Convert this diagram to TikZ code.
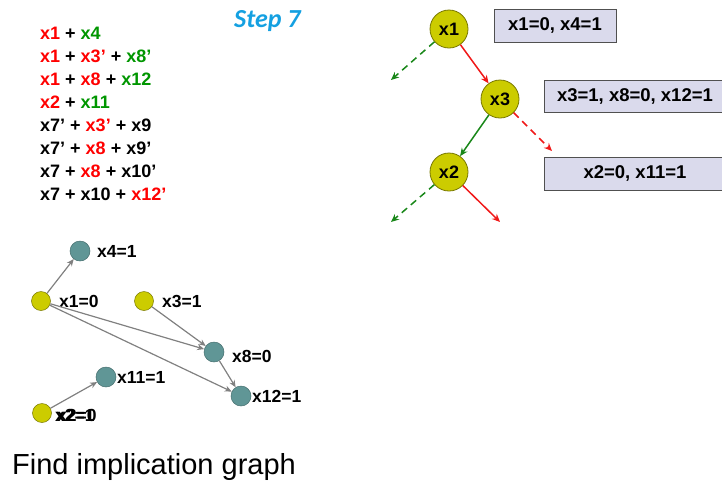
\documentclass[tikz,border=0pt]{standalone}
\usepackage{fontspec}
\setmainfont{Liberation Sans}
\newfontfamily\stepfont{Carlito}
\usetikzlibrary{arrows.meta}

\definecolor{litred}{RGB}{255,0,0}
\definecolor{litgreen}{RGB}{0,150,0}
\definecolor{steptitle}{RGB}{20,160,225}
\definecolor{decfill}{RGB}{204,204,0}
\definecolor{decdraw}{RGB}{120,120,0}
\definecolor{implfill}{RGB}{96,150,150}
\definecolor{impldraw}{RGB}{70,110,110}
\definecolor{trailfill}{RGB}{218,218,236}
\definecolor{traildraw}{RGB}{80,80,80}
\definecolor{edgegray}{RGB}{128,128,128}
\definecolor{branchred}{RGB}{240,25,25}
\definecolor{branchgreen}{RGB}{25,135,25}

\tikzset{
  clause/.style={anchor=base west, inner sep=0pt, font=\fontsize{18}{18}\selectfont\bfseries},
  decision/.style={circle, minimum size=38pt, inner sep=0pt, fill=decfill, draw=decdraw, line width=0.8pt,
                   font=\fontsize{18}{18}\selectfont\bfseries},
  trail/.style={rectangle, fill=trailfill, draw=traildraw, line width=0.8pt, inner sep=0pt,
                font=\fontsize{18.5}{18.5}\selectfont\bfseries},
  gdec/.style={circle, minimum size=19pt, inner sep=0pt, fill=decfill, draw=decdraw, line width=0.5pt},
  gimp/.style={circle, minimum size=20pt, inner sep=0pt, fill=implfill, draw=impldraw, line width=0.5pt},
  glabel/.style={anchor=west, inner sep=0pt, font=\fontsize{17.5}{17.5}\selectfont\bfseries},
  implarrow/.style={draw=edgegray, line width=1.2pt, -{Stealth[length=7pt,width=6pt]}},
  redsolid/.style={draw=branchred, line width=1.5pt, -{Stealth[length=8pt,width=7pt]}},
  greensolid/.style={draw=branchgreen, line width=1.5pt, -{Stealth[length=8pt,width=7pt]}},
  reddashed/.style={redsolid, dash pattern=on 7pt off 5pt},
  greendashed/.style={greensolid, dash pattern=on 7pt off 5pt},
}

\begin{document}
\begin{tikzpicture}[x=1pt, y=-1pt]
\useasboundingbox (0,0) rectangle (722,483);

% title
\node[anchor=base west, inner sep=0pt, text=steptitle, font=\fontsize{26}{26}\selectfont\stepfont\bfseries\itshape]
  (title) at (234,27) {Step 7};

% clause list
\node[clause] (c1) at (40,39)  {\textcolor{litred}{x1} + \textcolor{litgreen}{x4}};
\node[clause] (c2) at (40,62)  {\textcolor{litred}{x1} + \textcolor{litred}{x3’} + \textcolor{litgreen}{x8’}};
\node[clause] (c3) at (40,85)  {\textcolor{litred}{x1} + \textcolor{litred}{x8} + \textcolor{litgreen}{x12}};
\node[clause] (c4) at (40,108) {\textcolor{litred}{x2} + \textcolor{litgreen}{x11}};
\node[clause] (c5) at (40,131) {x7’ + \textcolor{litred}{x3’} + x9};
\node[clause] (c6) at (40,154) {x7’ + \textcolor{litred}{x8} + x9’};
\node[clause] (c7) at (40,177) {x7 + \textcolor{litred}{x8} + x10’};
\node[clause] (c8) at (40,200) {x7 + x10 + \textcolor{litred}{x12’}};

% decision tree
\node[decision] (d1) at (449,29)  {x1};
\node[decision] (d3) at (500,99)  {x3};
\node[decision] (d2) at (449,172) {x2};

\coordinate (d1l) at (391,80);
\coordinate (d3r) at (552,151);
\coordinate (d2l) at (391,222);
\coordinate (d2r) at (500,222);

\draw[greendashed] (d1) -- (d1l);
\draw[redsolid]    (d1) -- (d3);
\draw[greensolid]  (d3) -- (d2);
\draw[reddashed]   (d3) -- (d3r);
\draw[greendashed] (d2) -- (d2l);
\draw[redsolid]    (d2) -- (d2r);

% assignment trail
\node[trail, minimum width=122pt, minimum height=33pt] (t1) at (555,25.5) {x1=0, x4=1};
\node[trail, minimum width=182pt, minimum height=32pt] (t2) at (635,96)   {x3=1, x8=0, x12=1};
\node[trail, minimum width=182pt, minimum height=33pt] (t3) at (635,173.5){x2=0, x11=1};

% implication graph
\node[gimp] (g4)  at (80,251)  {};
\node[gdec] (g1)  at (41,301)  {};
\node[gdec] (g3)  at (144,301) {};
\node[gimp] (g8)  at (214,352) {};
\node[gimp] (g11) at (106,377) {};
\node[gimp] (g12) at (241,396) {};
\node[gdec] (g2)  at (42,413)  {};

\node[glabel] (l4)  at (97,251)  {x4=1};
\node[glabel] (l1)  at (59,301)  {x1=0};
\node[glabel] (l3)  at (162,301) {x3=1};
\node[glabel] (l8)  at (232,356) {x8=0};
\node[glabel] (l11) at (117,377) {x11=1};
\node[glabel] (l12) at (252,396) {x12=1};
\node[glabel] (l2b) at (55,415)  {x2=1};
\node[glabel] (l2)  at (57,415)  {x2=0};

\draw[implarrow] (g1) -- (g4);
\draw[implarrow] (g1) -- (g8);
\draw[implarrow] (g1) -- (g12);
\draw[implarrow] (g3) -- (g8);
\draw[implarrow] (g8) -- (g12);
\draw[implarrow] (g2) -- (g11);

% caption
\node[anchor=base west, inner sep=0pt, font=\fontsize{29}{29}\selectfont] (cap) at (12,474) {Find implication graph};
\end{tikzpicture}
\end{document}
